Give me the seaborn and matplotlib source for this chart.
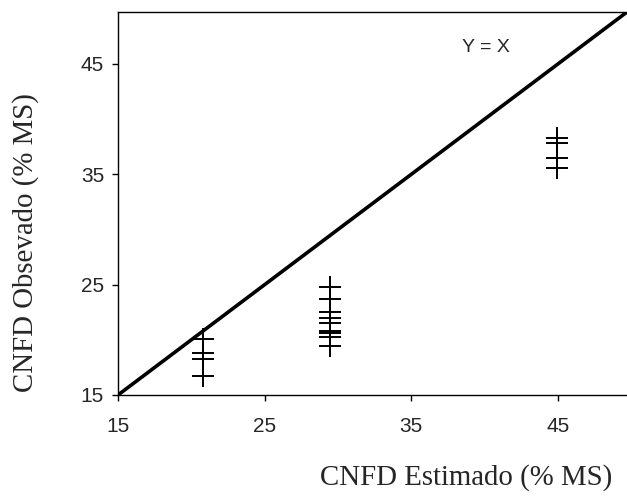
import matplotlib
matplotlib.use("Agg")
import matplotlib.pyplot as plt
import seaborn as sns
import pandas as pd

# Estimated vs observed non-fibrous carbohydrates (% DM)
estimado = [20.8, 20.8, 20.8, 20.8,
            29.45, 29.45, 29.45, 29.45, 29.45, 29.45, 29.45, 29.45, 29.45,
            44.9, 44.9, 44.9, 44.9]
observado = [20.1, 18.8, 18.3, 16.7,
             24.8, 23.7, 22.5, 22.0, 21.5, 20.8, 20.6, 20.3, 19.4,
             38.3, 37.8, 36.5, 35.6]
ticks = [15, 25, 35, 45]
identidade = [15, 50]

sns.set_style("white")
plt.rcParams["font.family"] = ["Liberation Sans", "DejaVu Sans"]

df = pd.DataFrame({"estimado": estimado, "observado": observado})
linha = pd.DataFrame({"x": identidade, "y": identidade})

fig = plt.figure(figsize=(6.27, 4.97), dpi=100)
ax = fig.add_axes([118 / 627, 102 / 497, 1 - 118 / 627, 383 / 497])

sns.lineplot(data=linha, x="x", y="y", color="black", linewidth=2.6, ax=ax)
sns.scatterplot(data=df, x="estimado", y="observado", marker="+", s=260,
                color="black", linewidth=1.4, ax=ax, zorder=3)

ax.set_xlim(15, 49.7)
ax.set_ylim(15, 49.7)
ax.set_xticks(ticks)
ax.set_yticks(ticks)
ax.tick_params(axis="both", direction="out", length=4, width=1, color="black",
               labelsize=15, bottom=True, left=True)
ax.tick_params(axis="x", pad=12)
ax.tick_params(axis="y", pad=6)
for side in ["left", "bottom", "top"]:
    ax.spines[side].set_color("black")
    ax.spines[side].set_linewidth(1)
ax.spines["right"].set_visible(False)
ax.set_xlabel("")
ax.set_ylabel("")

ax.text(40.1, 46.5, "Y = X", fontsize=14, ha="center", va="center")

fig.text(466 / 627, 1 - 478 / 497, "CNFD Estimado (% MS)", fontsize=20.8,
         family="Liberation Serif", ha="center", va="center")
fig.text(26 / 627, 1 - 243 / 497, "CNFD Obsevado (% MS)", fontsize=20.8,
         family="Liberation Serif", ha="center", va="center", rotation=90)

fig.savefig("out.png", dpi=100)
